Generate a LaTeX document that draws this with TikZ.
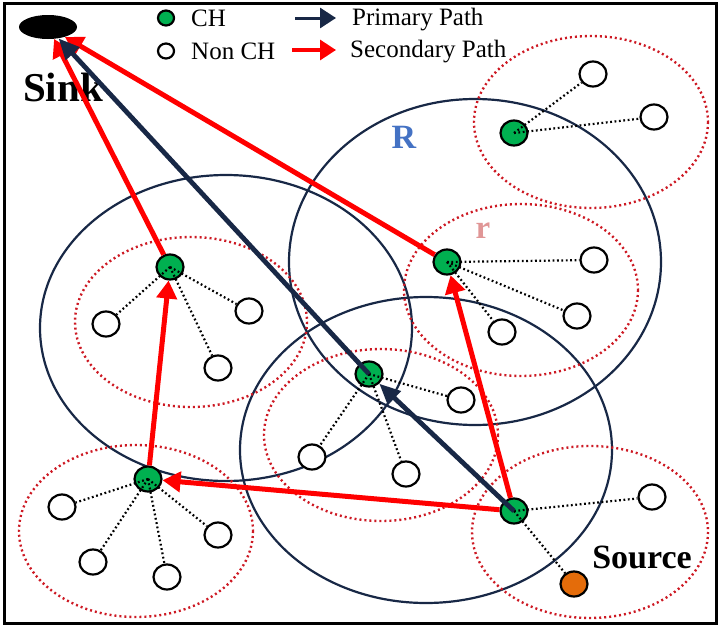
\documentclass[tikz,border=0pt]{standalone}
\usepackage{fontspec}
\setmainfont{Liberation Serif}
\usepackage{xcolor}
\usepackage{tikz}
\usetikzlibrary{arrows.meta,positioning,shapes.geometric}
\definecolor{navy}{RGB}{24,40,70}
\definecolor{chgreen}{RGB}{0,176,80}
\definecolor{srcorange}{RGB}{228,108,10}
\definecolor{rblue}{RGB}{68,114,196}
\definecolor{rpink}{RGB}{224,150,150}
\definecolor{dotred}{RGB}{205,25,35}

\begin{document}
\begin{tikzpicture}[
  x=1pt,y=-1pt,
  ch/.style={ellipse,draw=black,line width=2.2pt,fill=chgreen,minimum width=27pt,minimum height=25pt,inner sep=0pt},
  nch/.style={ch,fill=white},
  src/.style={ch,fill=srcorange},
  key/.style={ellipse,draw=black,line width=2.2pt,minimum width=16pt,minimum height=15pt,inner sep=0pt},
  big/.style={draw=navy,line width=2.2pt},
  zone/.style={draw=dotred,line width=2.4pt,dash pattern=on 2pt off 3pt},
  lk/.style={line width=2.2pt,dash pattern=on 1.8pt off 2.6pt},
  pa/.style={-{Triangle[length=21pt,width=18pt]},draw=navy,line width=4.8pt},
  sa/.style={-{Triangle[length=18pt,width=20pt]},draw=red,line width=5pt},
  lbl/.style={font=\fontsize{25}{25}\selectfont,anchor=base west,inner sep=0pt},
  tag/.style={font=\bfseries,anchor=base,inner sep=0pt}
]
\useasboundingbox (0,0) rectangle (720,629);
\draw[line width=3pt] (4,3) rectangle (716,623);

\draw[big] (226,328) ellipse [x radius=186,y radius=153];
\draw[big] (475,262) ellipse [x radius=186,y radius=163];
\draw[big] (426,450) ellipse [x radius=186,y radius=153];

\draw[zone] (591,122) ellipse [x radius=117,y radius=86];
\draw[zone] (521,290) ellipse [x radius=117,y radius=86];
\draw[zone] (191,322) ellipse [x radius=116,y radius=85];
\draw[zone] (381,435) ellipse [x radius=117,y radius=86];
\draw[zone] (136,531) ellipse [x radius=117,y radius=86];
\draw[zone] (590,532) ellipse [x radius=118,y radius=86];

\node[ellipse,fill=black,minimum width=58pt,minimum height=24pt,inner sep=0pt] (sink) at (48,27) {};
\node[tag,font=\fontsize{41}{41}\selectfont\bfseries] (sinkl) at (63,101) {Sink};
\node[tag,font=\fontsize{34}{34}\selectfont\bfseries] (srcl) at (642,568) {Source};
\node[tag,font=\fontsize{34}{34}\selectfont\bfseries,text=rblue] (bigr) at (404,148) {R};
\node[tag,font=\fontsize{33}{33}\selectfont\bfseries,text=rpink] (smallr) at (483,238) {r};

\node[key,fill=chgreen] (kch) at (166,18) {};
\node[key,fill=white] (knch) at (166,51) {};
\node[lbl] (tch) at (191,27) {CH};
\node[lbl] (tnch) at (191,59) {Non CH};
\coordinate (pa1) at (295,18);
\coordinate (pa2) at (336,18);
\coordinate (sa1) at (292,50);
\coordinate (sa2) at (336,50);
\draw[-{Triangle[length=16pt,width=20pt]},draw=navy,line width=3pt] (pa1) -- (pa2);
\draw[-{Triangle[length=16pt,width=20pt]},draw=red,line width=3.2pt] (sa1) -- (sa2);
\node[lbl] (tpa) at (352,25) {Primary Path};
\node[lbl] (tsa) at (350,57) {Secondary Path};

\node[ch] (ch1) at (514,133) {};
\node[nch] (n11) at (593,74) {};
\node[nch] (n12) at (654,117) {};

\node[ch] (ch2) at (447,262) {};
\node[nch] (n21) at (594,260) {};
\node[nch] (n22) at (577,316) {};
\node[nch] (n23) at (502,332) {};

\node[ch] (ch3) at (170,267) {};
\node[nch] (n31) at (106,324) {};
\node[nch] (n32) at (249,311) {};
\node[nch] (n33) at (218,368) {};

\node[ch] (ch4) at (369,374) {};
\node[nch] (n41) at (461,400) {};
\node[nch] (n42) at (312,457) {};
\node[nch] (n43) at (406,474) {};

\node[ch] (ch5) at (148,479) {};
\node[nch] (n51) at (62,507) {};
\node[nch] (n52) at (218,535) {};
\node[nch] (n53) at (93,562) {};
\node[nch] (n54) at (167,577) {};

\node[ch] (ch6) at (514,511) {};
\node[nch] (n61) at (652,497) {};
\node[src] (src) at (574,584) {};

\draw[lk] (ch1.center) -- (n11); \draw[lk] (ch1.center) -- (n12);
\draw[lk] (ch2.center) -- (n21); \draw[lk] (ch2.center) -- (n22); \draw[lk] (ch2.center) -- (n23);
\draw[lk] (ch3.center) -- (n31); \draw[lk] (ch3.center) -- (n32); \draw[lk] (ch3.center) -- (n33);
\draw[lk] (ch4.center) -- (n41); \draw[lk] (ch4.center) -- (n42); \draw[lk] (ch4.center) -- (n43);
\draw[lk] (ch5.center) -- (n51); \draw[lk] (ch5.center) -- (n52);
\draw[lk] (ch5.center) -- (n53); \draw[lk] (ch5.center) -- (n54);
\draw[lk] (ch6.center) -- (n61); \draw[lk] (ch6.center) -- (src);

\draw[sa] (ch6) -- (ch5);
\draw[sa] (ch5) -- (ch3);
\draw[sa] (ch3) -- (sink);
\draw[sa] (ch6) -- (ch2);
\draw[sa] (ch2) -- (sink);
\draw[pa] (ch6.center) -- (ch4);
\draw[pa] (ch4.center) -- (sink);
\end{tikzpicture}
\end{document}
